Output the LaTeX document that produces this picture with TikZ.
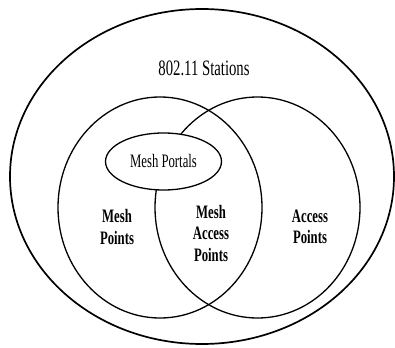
\documentclass[tikz,border=0pt]{standalone}
\usepackage{fontspec}
\setmainfont{Liberation Serif}[FakeStretch=0.67]
\usetikzlibrary{shapes}

\begin{document}
\begin{tikzpicture}[x=1pt,y=-1pt]
\tikzstyle{every path}=[thick]

\tikzstyle{venn}=[draw,ellipse,inner sep=0pt,line width=1.3pt]
\tikzstyle{setlabel}=[align=center,font=\fontsize{19}{21.5}\selectfont\bfseries]
\useasboundingbox (0,0) rectangle (395,347);
%% Draw the sets
\node [venn,line width=1.7pt,minimum width=384pt,minimum height=335pt] (stations) at (202,176.5) {};
\node [venn,minimum width=204pt,minimum height=221pt] (meshpts) at (160,207.5) {};
\node [venn,minimum width=205pt,minimum height=221pt] (accesspts) at (257.5,207.5) {};
\node [venn,fill=white,minimum width=116pt,minimum height=57pt,
  font=\fontsize{19}{21.5}\selectfont] (portals) at (163.5,161.5) {Mesh Portals};
%% Set names
\node [font=\fontsize{22}{24}\selectfont] (stationsname) at (204,68.5) {802.11 Stations};
\node [setlabel] (meshname) at (117,227) {Mesh\\Points};
\node [setlabel] (mapname) at (211,233) {Mesh\\Access\\Points};
\node [setlabel] (apname) at (310,227) {Access\\Points};
\end{tikzpicture}
\end{document}
